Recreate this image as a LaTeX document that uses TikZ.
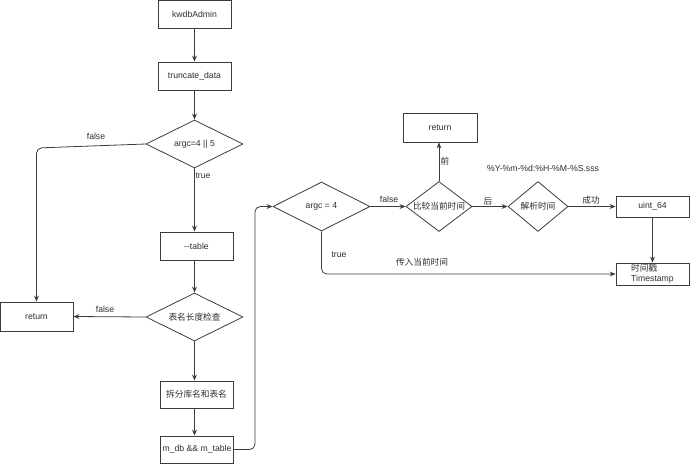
\documentclass[tikz,border=0pt]{standalone}
\usepackage{fontspec}
\setmainfont{Liberation Sans}
\newfontfamily\cjk{Noto Sans CJK SC}
\usetikzlibrary{shapes.geometric,arrows.meta}
\definecolor{ln}{RGB}{60,60,60}
\definecolor{tx}{RGB}{45,45,45}
\begin{document}
\begin{tikzpicture}[x=0.75pt,y=-0.75pt,
  font=\fontsize{6.5}{7.8}\selectfont,
  every node/.style={text=tx},
  box/.style={draw=ln, line width=0.6pt, rectangle, inner sep=0pt, minimum width=54.75pt, minimum height=21pt},
  dia/.style={draw=ln, line width=0.6pt, diamond, inner sep=0pt},
  conn/.style={draw=ln, line width=0.6pt, -{Stealth[length=4.5pt,width=3.6pt]}},
  lab/.style={inner sep=0pt}]
\useasboundingbox (0,0) rectangle (690,465);
% left column
\node[box] (kw) at (194.5,14) {kwdbAdmin};
\node[box] (tr) at (194.5,76) {truncate\_data};
\node[dia, minimum width=72.75pt, minimum height=36pt, label={[lab]center:argc=4 || 5}] (d1) at (194.5,144) {};
\node[box] (tab) at (196.5,246) {-{}-table};
\node[dia, minimum width=72.75pt, minimum height=36pt, label={[lab]center:{\cjk 表名长度检查}}] (d2) at (194.5,317) {};
\node[box, minimum height=21.75pt] (ret1) at (36.5,316.5) {return};
\node[box, minimum height=20.25pt] (split) at (196.5,394.5) {\cjk 拆分库名和表名};
\node[box, minimum height=20.25pt] (mdb) at (197,449.5) {m\_db \&\& m\_table};
% right part
\node[dia, minimum width=72.75pt, minimum height=36.75pt, label={[lab]center:argc = 4}] (d3) at (321.5,206.5) {};
\node[dia, minimum width=49.5pt, minimum height=37.5pt, label={[lab]center:{\cjk 比较当前时间}}] (cmp) at (439,206.5) {};
\node[box, minimum width=55.5pt, minimum height=21.75pt] (ret2) at (440,127.5) {return};
\node[dia, minimum width=45pt, minimum height=37.5pt, label={[lab]center:{\cjk 解析时间}}] (parse) at (538,206.5) {};
\node[box, minimum height=15.75pt] (uint) at (652.5,206.5) {uint\_64};
\node[box, minimum height=16.5pt, align=left] (ts) at (652.5,274) {{\cjk 时间戳}\\Timestamp};
\node[lab] (fmt) at (543,168) {\%Y-\%m-\%d:\%H-\%M-\%S.sss};
% connectors
\draw[conn] (kw) -- (tr);
\draw[conn] (tr) -- (d1.north);
\draw[conn, rounded corners=4pt] (d1.west) -- (36.5,148) -- (ret1.north);
\node[lab] (lf1) at (96,136) {false};
\draw[conn] (d1.south) -- (d1.south |- tab.north);
\node[lab] (lt1) at (203,176) {true};
\draw[conn] (d2.north |- tab.south) -- (d2.north);
\draw[conn] (d2.west) -- (ret1.east);
\node[lab] (lf2) at (105,309) {false};
\draw[conn] (d2.south) -- (d2.south |- split.north);
\draw[conn] (d2.south |- split.south) -- (d2.south |- mdb.north);
\draw[conn, rounded corners=4pt] (mdb.east) -- (255,449.5) -- (255,206.5) -- (d3.west);
\draw[conn] (d3.east) -- (cmp.west);
\node[lab] (lf3) at (389,199) {false};
\draw[conn] (cmp.north) -- (cmp.north |- ret2.south);
\node[lab] (lq) at (445,161) {\cjk 前};
\draw[conn] (cmp.east) -- (parse.west);
\node[lab] (lh) at (488,201) {\cjk 后};
\draw[conn] (parse.east) -- (uint.west);
\node[lab] (lok) at (591,200) {\cjk 成功};
\draw[conn] (uint) -- (ts);
\draw[conn, rounded corners=4pt] (d3.south) -- (d3.south |- ts.west) -- (ts.west);
\node[lab] (lt2) at (339,255) {true};
\node[lab] (lnow) at (422,262) {\cjk 传入当前时间};
\end{tikzpicture}
\end{document}
